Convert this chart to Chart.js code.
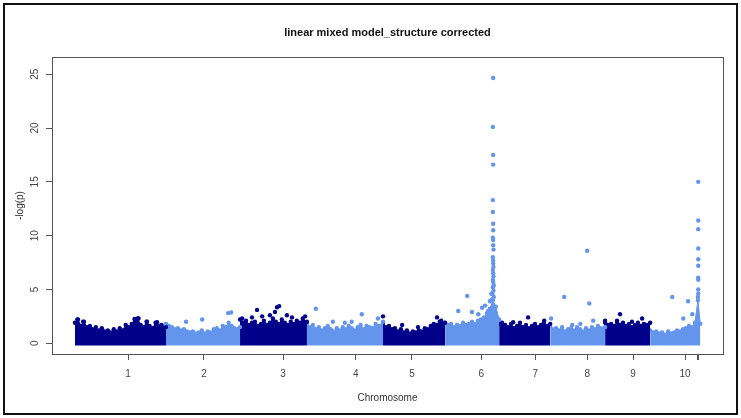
<!DOCTYPE html>
<html>
<head>
<meta charset="utf-8">
<script src="https://cdn.jsdelivr.net/npm/chart.js@4.4.0/dist/chart.umd.min.js"></script>
<style>
  html, body { margin: 0; padding: 0; background: #fff; }
  #wrap { width: 741px; height: 418px; }
</style>
</head>
<body>
<div id="wrap"><canvas id="manhattan" width="741" height="418"></canvas></div>
<script>
// chromosomes, lengths in Mb
const chromosomes = ["1", "2", "3", "4", "5", "6", "7", "8", "9", "10"];
const chrLengths = [305, 248, 224, 255, 208, 181, 171, 184, 151, 168];
// where the axis labels sit inside each chromosome (Mb)
const tickPositions = [178, 127, 144, 164, 97, 121, 121, 124, 94, 117];
const extraTicks = [157, 163]; // two unlabeled ticks at the end of chr 10
const yTicks = [0, 5, 10, 15, 20, 25];

// top of the dense SNP cloud, one value every 10 Mb (last one at the chromosome end)
const bandStep = 10;
const band1 = [1.9, 2.2, 1.6, 2.0, 1.5, 1.6, 1.3, 1.5, 1.2, 1.4, 1.1, 1.2, 1.0, 1.3, 1.1, 1.4, 1.2, 1.7, 1.5, 1.8, 2.2, 2.3, 1.7, 1.5, 2.0, 1.6, 1.4, 1.9, 1.6, 1.7, 1.5];
const band2 = [1.8, 1.6, 1.5, 1.3, 1.4, 1.2, 1.3, 1.1, 1.0, 1.1, 0.9, 1.0, 1.2, 0.9, 1.1, 1.0, 1.3, 1.4, 1.2, 1.6, 1.5, 1.9, 1.6, 1.4, 1.5];
const band3 = [2.2, 1.9, 2.1, 1.7, 1.9, 2.0, 1.6, 1.8, 2.1, 1.7, 1.9, 2.3, 2.0, 1.8, 2.2, 1.9, 1.7, 2.0, 1.8, 2.1, 1.9, 2.3, 2.0];
const band4 = [1.8, 1.5, 1.7, 1.3, 1.5, 1.2, 1.4, 1.6, 1.3, 1.1, 1.4, 1.2, 1.5, 1.3, 1.6, 1.4, 1.2, 1.5, 1.7, 1.3, 1.6, 1.5, 1.4, 1.8, 1.6, 2.0];
const band5 = [1.9, 1.5, 1.6, 1.3, 1.4, 1.1, 1.3, 1.0, 1.2, 0.9, 1.1, 1.0, 1.2, 1.1, 1.4, 1.3, 1.6, 1.8, 1.7, 2.0, 1.9];
const band6 = [1.9, 1.7, 1.8, 1.5, 1.7, 1.6, 1.9, 1.7, 1.8, 2.0, 1.8, 2.1, 2.2, 2.4, 2.8, 3.2, 4.0, 3.4, 2.2];
const band7 = [1.8, 1.6, 1.7, 1.5, 1.8, 1.4, 1.6, 1.9, 1.5, 1.7, 1.4, 1.6, 1.8, 1.5, 1.7, 1.9, 1.6, 1.8];
const band8 = [1.6, 1.3, 1.4, 1.2, 1.5, 1.1, 1.3, 1.4, 1.2, 1.5, 1.3, 1.1, 1.4, 1.2, 1.5, 1.3, 1.6, 1.4, 1.5];
const band9 = [1.9, 1.7, 1.8, 1.6, 2.0, 1.7, 1.9, 1.6, 1.8, 1.5, 1.7, 1.9, 1.6, 1.8, 1.7, 1.9];
const band10 = [1.2, 1.0, 1.1, 0.9, 1.0, 0.8, 1.1, 0.9, 1.0, 1.2, 1.1, 1.3, 1.4, 1.6, 1.5, 1.9, 4.0, 1.8];

// single SNPs above the cloud: [position Mb, -log(p)]
const hits1 = [[8, 2.2], [27, 2.0], [200, 2.25], [213, 2.3], [241, 2.0], [275, 1.95]];
const hits2 = [[67, 2.0], [121, 2.2], [208, 2.8], [218, 2.85]];
const hits3 = [[7, 2.3], [40, 2.4], [57, 3.1], [74, 2.5], [100, 2.6], [117, 2.9], [124, 3.35], [131, 3.45], [157, 2.6], [174, 2.4], [218, 2.5]];
const hits4 = [[30, 3.2], [87, 2.0], [127, 1.9], [150, 2.0], [184, 2.7], [238, 2.3]];
const hits5 = [[0, 2.5], [64, 1.7], [117, 1.5], [181, 2.4], [195, 2.1]];
const hits6 = [[44, 3.0], [74, 4.4], [90, 2.9], [111, 2.7], [124, 3.3], [134, 3.5], [144, 3.0], [150, 3.9], [155, 4.6],
  [161, 24.65], [160, 20.1], [161, 17.5], [161, 16.6], [160, 13.3], [160, 12.2], [161, 11.1], [161, 10.5], [160, 9.8],
  [161, 9.6], [161, 9.1], [162, 8.7], [160, 8.0], [161, 7.7], [161, 7.4], [162, 7.1], [160, 6.8], [161, 6.5], [162, 6.2],
  [160, 5.9], [161, 5.7], [163, 5.4], [160, 5.2], [162, 4.9], [159, 4.6], [163, 4.3], [158, 4.1]];
const hits7 = [[10, 1.9], [47, 1.95], [97, 2.4], [151, 2.1]];
const hits8 = [[3, 2.3], [47, 4.3], [74, 1.7], [101, 1.8], [124, 8.6], [131, 3.7], [144, 2.1]];
const hits9 = [[0, 2.1], [40, 2.1], [50, 2.7], [90, 2.0], [124, 2.3]];
const hits10 = [[74, 4.3], [111, 2.3], [127, 3.9], [141, 2.7], [161, 15.0], [161, 11.4], [161, 10.6], [161, 8.8],
  [161, 7.8], [161, 7.2], [161, 6.1], [161, 5.9], [161, 5.0], [161, 4.6], [160, 4.3]];

const darkBlue = "#00008B";
const lightBlue = "#6495ED";

const bands = [band1, band2, band3, band4, band5, band6, band7, band8, band9, band10];
const hits = [hits1, hits2, hits3, hits4, hits5, hits6, hits7, hits8, hits9, hits10];

// cumulative start of each chromosome
const chrStart = [];
let acc = 0;
chrLengths.forEach((len) => { chrStart.push(acc); acc += len; });

const xTickValues = chromosomes.map((c, i) => chrStart[i] + tickPositions[i])
  .concat(extraTicks.map((p) => chrStart[9] + p));
const xTickLabels = chromosomes.concat(extraTicks.map(() => ""));

const datasets = [];
chromosomes.forEach((c, i) => {
  const col = i % 2 === 0 ? darkBlue : lightBlue;
  datasets.push({
    label: "chr" + c + " hits",
    data: hits[i].map(([p, v]) => ({ x: chrStart[i] + p, y: v })),
    backgroundColor: col,
    borderWidth: 0,
    pointRadius: 2.2,
  });
});
chromosomes.forEach((c, i) => {
  const col = i % 2 === 0 ? darkBlue : lightBlue;
  const last = bands[i].length - 1;
  datasets.push({
    label: "chr" + c,
    data: bands[i].map((v, k) => ({
      x: chrStart[i] + (k === last ? chrLengths[i] : k * bandStep),
      y: v,
    })),
    showLine: true,
    fill: { value: -0.22 },
    backgroundColor: col,
    borderColor: col,
    borderWidth: 1,
    pointBackgroundColor: col,
    pointBorderWidth: 0,
    pointRadius: 2.2,
    tension: 0,
  });
});

// R style box round the plot + the outer frame of the picture
const boxPlugin = {
  id: "rBox",
  afterDraw(chart) {
    const { ctx, chartArea: a } = chart;
    ctx.save();
    ctx.strokeStyle = "#555";
    ctx.lineWidth = 1;
    ctx.strokeRect(Math.round(a.left) + 0.5, Math.round(a.top) + 0.5, Math.round(a.right - a.left), Math.round(a.bottom - a.top));
    ctx.strokeStyle = "#111";
    ctx.lineWidth = 2;
    ctx.strokeRect(4, 4, 733, 410);
    ctx.restore();
  },
};

const font = "'Liberation Sans', Arial, sans-serif";

new Chart(document.getElementById("manhattan"), {
  type: "scatter",
  data: { datasets },
  options: {
    responsive: false,
    animation: false,
    layout: { padding: { left: 0, right: 18, top: 0, bottom: 0 } },
    plugins: {
      legend: { display: false },
      tooltip: { enabled: false },
      title: {
        display: true,
        fullSize: false,
        text: "linear mixed model_structure corrected",
        color: "#111",
        font: { family: font, size: 11, weight: "bold" },
        padding: { top: 26.4, bottom: 17.4 },
      },
    },
    scales: {
      x: {
        type: "linear",
        min: -77,
        max: 2171,
        afterBuildTicks: (scale) => { scale.ticks = xTickValues.map((v) => ({ value: v })); },
        afterFit: (scale) => { scale.height = 64; },
        ticks: {
          autoSkip: false,
          maxRotation: 0,
          padding: 8,
          color: "#444",
          font: { family: font, size: 10 },
          callback: (v, i) => xTickLabels[i],
        },
        grid: { drawOnChartArea: false, tickLength: 6, color: "#555" },
        border: { display: true, color: "#555" },
        title: {
          display: true,
          text: "Chromosome",
          color: "#333",
          font: { family: font, size: 10 },
          padding: { top: 0, bottom: 14 },
        },
      },
      y: {
        min: -1.0,
        max: 26.6,
        afterBuildTicks: (scale) => { scale.ticks = yTicks.map((v) => ({ value: v })); },
        afterFit: (scale) => { scale.width = 52; },
        ticks: {
          minRotation: 90,
          maxRotation: 90,
          crossAlign: "center",
          padding: 5,
          color: "#444",
          font: { family: font, size: 10 },
        },
        grid: { drawOnChartArea: false, tickLength: 6, color: "#555" },
        border: { display: true, color: "#555" },
        title: {
          display: true,
          text: "-log(p)",
          color: "#333",
          font: { family: font, size: 10 },
          padding: { top: 14, bottom: 0 },
        },
      },
    },
  },
  plugins: [boxPlugin],
});
</script>
</body>
</html>
